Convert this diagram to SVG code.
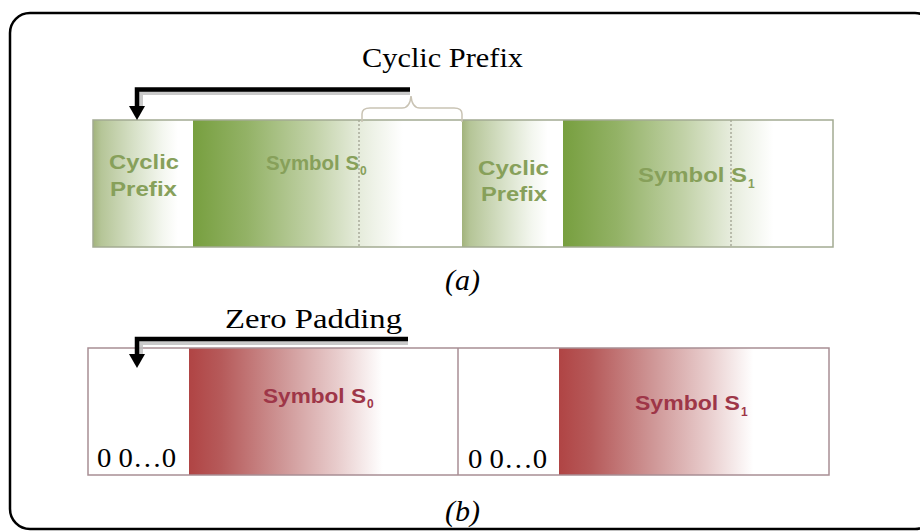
<svg xmlns="http://www.w3.org/2000/svg" width="920" height="532" viewBox="0 0 920 532">
<style>
.serif{font-family:"Liberation Serif","DejaVu Serif",serif;fill:#000}
.lbl{font-family:"Liberation Sans",Arial,sans-serif;font-weight:bold;font-size:20px}
.sub{font-size:12px}
.gtxt{fill:#87a05a}
.rtxt{fill:#9e3648}
.rline{stroke:#a88e94;stroke-width:1.5;fill:none}
.arrow{fill:none;stroke:#000;stroke-width:4.5}
.shadow{fill:none;stroke:#bdbdbd;stroke-width:4;opacity:0.8}
</style>
<defs>
<linearGradient id="gCP" x1="0" y1="0" x2="1" y2="0">
<stop offset="0" stop-color="#a2b37c"/>
<stop offset="0.08" stop-color="#b5c597"/>
<stop offset="0.45" stop-color="#dbe4cd"/>
<stop offset="0.7" stop-color="#f4f7f0"/>
<stop offset="0.85" stop-color="#ffffff"/>
</linearGradient>
<linearGradient id="gSym" x1="0" y1="0" x2="1" y2="0">
<stop offset="0" stop-color="#779f3f"/>
<stop offset="0.2" stop-color="#93b266"/>
<stop offset="0.45" stop-color="#c2d2a8"/>
<stop offset="0.62" stop-color="#e6ecdc"/>
<stop offset="0.78" stop-color="#ffffff"/>
</linearGradient>
<linearGradient id="rSym" x1="0" y1="0" x2="1" y2="0">
<stop offset="0" stop-color="#b04444"/>
<stop offset="0.12" stop-color="#b65a5a"/>
<stop offset="0.35" stop-color="#cf9797"/>
<stop offset="0.55" stop-color="#e8cccc"/>
<stop offset="0.72" stop-color="#ffffff"/>
</linearGradient>
</defs>

<rect id="frame" x="10" y="13" width="925" height="516" rx="20" ry="20" fill="#fff" stroke="#000" stroke-width="2.5"/>

<!-- (a) cyclic prefix row -->
<g id="cp1">
<rect x="93" y="120" width="100" height="127" fill="url(#gCP)"/>
<text class="lbl gtxt" x="109" y="169" textLength="70" lengthAdjust="spacingAndGlyphs">Cyclic</text>
<text class="lbl gtxt" x="110" y="196" textLength="67" lengthAdjust="spacingAndGlyphs">Prefix</text>
</g>
<g id="sym0">
<rect x="193" y="120" width="269" height="127" fill="url(#gSym)"/>
<line x1="359" y1="120" x2="359" y2="247" stroke="#8a8a7a" stroke-width="1" stroke-dasharray="2,2"/>
<text class="lbl gtxt" x="266" y="170" textLength="93" lengthAdjust="spacingAndGlyphs">Symbol S</text>
<text class="lbl sub gtxt" x="360" y="175">0</text>
</g>
<g id="cp2">
<rect x="462" y="120" width="101" height="127" fill="url(#gCP)"/>
<text class="lbl gtxt" x="478" y="175" textLength="71" lengthAdjust="spacingAndGlyphs">Cyclic</text>
<text class="lbl gtxt" x="481" y="201" textLength="66" lengthAdjust="spacingAndGlyphs">Prefix</text>
</g>
<g id="sym1">
<rect x="563" y="120" width="270" height="127" fill="url(#gSym)"/>
<line x1="731" y1="120" x2="731" y2="247" stroke="#8a8a7a" stroke-width="1" stroke-dasharray="2,2"/>
<text class="lbl gtxt" x="638" y="182" textLength="109" lengthAdjust="spacingAndGlyphs">Symbol S</text>
<text class="lbl sub gtxt" x="748" y="188">1</text>
</g>
<rect x="93" y="120" width="740" height="127" fill="none" stroke="#a3ab92" stroke-width="1.5"/>

<g id="brace">
<path d="M362,122 L362,114 Q362,108 370,108 L402,108 Q410,108 411,96 Q412,108 420,108 L454,108 Q462,108 462,114 L462,122" fill="none" stroke="#c9c3b4" stroke-width="1.5"/>
</g>

<g id="label-cp">
<text class="serif" x="362" y="67" font-size="28" textLength="161" lengthAdjust="spacingAndGlyphs">Cyclic Prefix</text>
</g>
<g id="label-a">
<text class="serif" x="445" y="290" font-size="30" font-style="italic" textLength="35" lengthAdjust="spacingAndGlyphs">(a)</text>
</g>

<!-- (b) zero padding row -->
<g id="zp1">
<rect x="88" y="348" width="101" height="127" fill="#fff"/>
<text class="serif" x="97" y="467" font-size="27" textLength="79" lengthAdjust="spacingAndGlyphs">0 0…0</text>
</g>
<g id="rsym0">
<rect x="189" y="348" width="269" height="127" fill="url(#rSym)"/>
<text class="lbl rtxt" x="263" y="403" textLength="103" lengthAdjust="spacingAndGlyphs">Symbol S</text>
<text class="lbl sub rtxt" x="367" y="408">0</text>
</g>
<g id="zp2">
<rect x="458" y="348" width="101" height="127" fill="#fff"/>
<text class="serif" x="468" y="468" font-size="27" textLength="79" lengthAdjust="spacingAndGlyphs">0 0…0</text>
</g>
<g id="rsym1">
<rect x="559" y="348" width="270" height="127" fill="url(#rSym)"/>
<text class="lbl rtxt" x="635" y="410" textLength="105" lengthAdjust="spacingAndGlyphs">Symbol S</text>
<text class="lbl sub rtxt" x="741" y="416">1</text>
</g>
<rect x="88" y="348" width="741" height="127" class="rline"/>
<line x1="458" y1="348" x2="458" y2="475" class="rline"/>

<g id="label-zp">
<text class="serif" x="225" y="328" font-size="27" textLength="177" lengthAdjust="spacingAndGlyphs">Zero Padding</text>
</g>
<g id="label-b">
<text class="serif" x="445" y="521" font-size="30" font-style="italic" textLength="35" lengthAdjust="spacingAndGlyphs">(b)</text>
</g>

<!-- connectors -->
<g id="connectors">
<path class="shadow" d="M410,93 L141,93 L141,110"/>
<path class="arrow" d="M410,89.5 L137,89.5 L137,108"/>
<path d="M129,106 L145,106 L137,120 z" fill="#000"/>
<path class="shadow" d="M408,343 L141,343 L141,358"/>
<path class="arrow" d="M408,339 L137,339 L137,356"/>
<path d="M129,354 L145,354 L137,368 z" fill="#000"/>
</g>
</svg>
